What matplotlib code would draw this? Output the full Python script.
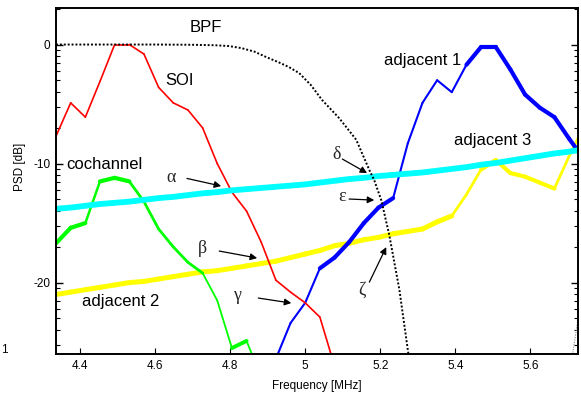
import numpy as np
import matplotlib
matplotlib.use('Agg')
import matplotlib.pyplot as plt
from matplotlib.ticker import FixedLocator, NullFormatter

plt.rcParams['font.family'] = ['Liberation Sans', 'DejaVu Sans']
plt.rcParams['axes.unicode_minus'] = False

# frequency bins [MHz]
freq = [4.3359, 4.3750, 4.4141, 4.4531, 4.4922, 4.5313, 4.5703, 4.6094, 4.6484,
        4.6875, 4.7266, 4.7656, 4.8047, 4.8438, 4.8828, 4.9219, 4.9609, 5.0000,
        5.0391, 5.0781, 5.1172, 5.1563, 5.1953, 5.2344, 5.2734, 5.3125, 5.3516,
        5.3906, 5.4297, 5.4688, 5.5078, 5.5469, 5.5859, 5.6250, 5.6641, 5.7031,
        5.7422]
nan = np.nan

# PSD [dB] per bin
soi = [-7.7, -4.9, -6.1, -3.1, 0.0, 0.0, -0.8, -3.6, -4.9, -5.5, -7.0, -10.0,
       -12.4, -14.0, -16.6, -19.8, -20.8, -21.7, -22.9, -27.0] + [nan] * 17
cochannel = [-16.7, -15.4, -15.0, -11.5, -11.2, -11.5, -13.2, -15.5, -17.0, -18.3,
             -19.2, -21.5, -25.5, -24.9, -28.0] + [nan] * 22
adjacent1 = [nan] * 15 + [-26.4, -23.4, -21.7, -18.8, -17.9, -16.6, -15.0, -13.7,
                          -12.9, -8.3, -4.9, -3.0, -4.0, -1.7, -0.2, -0.2, -2.1,
                          -4.2, -5.3, -6.1, -7.9, -9.6]
adjacent23 = [-21.0, -20.8, -20.6, -20.4, -20.2, -20.0, -19.9, -19.7, -19.5, -19.3,
              -19.1, -19.0, -18.8, -18.6, -18.4, -18.2, -17.9, -17.6, -17.3, -16.9,
              -16.7, -16.4, -16.2, -15.9, -15.7, -15.5, -14.9, -14.4, -12.6, -10.5,
              -9.7, -10.8, -11.1, -11.6, -12.1, -9.4, -6.9]
wideband = [-13.8, -13.7, -13.55, -13.4, -13.3, -13.2, -13.05, -12.9, -12.8, -12.65,
            -12.5, -12.4, -12.25, -12.15, -12.05, -11.95, -11.85, -11.75, -11.6,
            -11.45, -11.3, -11.2, -11.05, -10.95, -10.85, -10.75, -10.6, -10.45,
            -10.3, -10.1, -9.95, -9.75, -9.55, -9.35, -9.15, -9.0, -8.8]

# band pass filter response
bpf_freq = [4.336, 4.60, 4.70, 4.76, 4.797, 4.83, 4.865, 4.896, 4.93, 4.957, 4.984,
            5.015, 5.045, 5.091, 5.136, 5.171, 5.184, 5.203, 5.224, 5.251, 5.275, 5.29]
bpf_db = [0.0, 0.0, -0.02, -0.06, -0.13, -0.3, -0.6, -1.05, -1.5, -1.9, -2.4,
          -3.4, -4.66, -6.2, -8.0, -10.55, -11.4, -13.1, -16.0, -20.6, -26.0, -30.0]
bpf_edge_freq = [5.705, 5.735]
bpf_edge_db = [-27.5, -21.5]


def plot_band(ax, x, y, color, thin, thick_ranges, z):
    # draw segment by segment so the trace width can vary
    w = np.full(len(x) - 1, thin)
    for a, b, lw in thick_ranges:
        w[a:b] = lw
    for i in range(len(x) - 1):
        ax.plot(x[i:i + 2], y[i:i + 2], color=color, lw=w[i],
                solid_capstyle='round', solid_joinstyle='round', zorder=z)


fig = plt.figure(figsize=(5.81, 3.94), dpi=100)
ax = fig.add_axes([56 / 581, 40 / 394, 522 / 581, 346 / 394])

plot_band(ax, freq, adjacent23, '#ffff00', 3.6, [(27, 29, 2.0), (29, 34, 3.0), (34, 36, 2.0)], 2.0)
plot_band(ax, freq, adjacent1, '#0000ff', 1.5, [(18, 23, 3.0), (28, 36, 3.0)], 2.1)
plot_band(ax, freq, soi, '#ff0000', 1.2, [], 2.2)
plot_band(ax, freq, cochannel, '#00ff00', 1.3,
          [(0, 2, 3.0), (2, 3, 1.8), (3, 5, 3.0), (5, 10, 2.0), (12, 13, 2.8)], 2.3)
ax.plot(freq, wideband, color='#00ffff', lw=4.2, solid_capstyle='butt', zorder=2.4)
ax.plot(bpf_freq, bpf_db, color='k', lw=1.4, ls=(0, (1, 1)), zorder=2.5)
ax.plot(bpf_edge_freq, bpf_edge_db, color='0.55', lw=0.8, ls=(0, (1, 1.2)), zorder=2.5)

# curve labels
lab = dict(fontsize=12, ha='center', va='center')
ax.text(4.736, 1.47, 'BPF', **lab)
ax.text(4.664, -2.98, 'SOI', **lab)
ax.text(4.464, -10.04, 'cochannel', **lab)
ax.text(5.312, -1.30, 'adjacent 1', **lab)
ax.text(5.499, -8.03, 'adjacent 3', **lab)
ax.text(4.509, -21.6, 'adjacent 2', **lab)

# crossing markers
greek = [('α', (4.643, -11.13), (4.685, -11.25), (4.776, -11.89)),
         ('β', (4.725, -17.1), (4.771, -17.35), (4.872, -17.94)),
         ('γ', (4.819, -21.05), (4.875, -21.3), (4.963, -21.72)),
         ('δ', (5.083, -9.2), (5.099, -9.62), (5.165, -10.8)),
         ('ε', (5.099, -12.8), (5.117, -12.98), (5.184, -13.07)),
         ('ζ', (5.152, -20.6), (5.171, -19.96), (5.216, -17.02))]
for s, pt, tail, head in greek:
    ax.text(pt[0], pt[1], s, fontsize=13, ha='center', va='center',
            family=['Liberation Serif', 'DejaVu Serif'], color='0.15')
    ax.annotate('', xy=head, xytext=tail,
                arrowprops=dict(arrowstyle='-|>', color='k', lw=0.9,
                                mutation_scale=10, shrinkA=0, shrinkB=0))

ax.set_xlim(4.3359, 5.727)
ax.set_ylim(-26.0, 3.07)
ax.set_xticks([4.4, 4.6, 4.8, 5.0, 5.2, 5.4, 5.6])
ax.set_xticklabels(['4.4', '4.6', '4.8', '5', '5.2', '5.4', '5.6'])
ax.set_yticks([0, -10, -20])
ax.set_yticklabels(['0', '-10', '-20'])
minor = [10 * np.log10(k) + 10 * m for m in range(-3, 1) for k in range(2, 10)]
ax.yaxis.set_minor_locator(FixedLocator(minor))
ax.yaxis.set_minor_formatter(NullFormatter())
ax.tick_params(axis='both', which='both', direction='in', labelsize=8.5, pad=4)
ax.tick_params(axis='y', which='both', right=True)
ax.tick_params(axis='y', which='major', length=5, width=1.0)
ax.tick_params(axis='y', which='minor', length=3, width=0.8)
ax.tick_params(axis='x', which='major', length=4, width=0.8)
for sp in ax.spines.values():
    sp.set_linewidth(1.4)

ax.set_xlabel('Frequency [MHz]', fontsize=8.5, labelpad=6)
fig.text(20 / 581, 1 - 167 / 394, 'PSD [dB]', rotation=90, fontsize=8.5,
         ha='center', va='center')
fig.text(1 / 581, 1 - 350 / 394, '1', fontsize=8.5, ha='left', va='center')

fig.savefig('out.png', dpi=100)
